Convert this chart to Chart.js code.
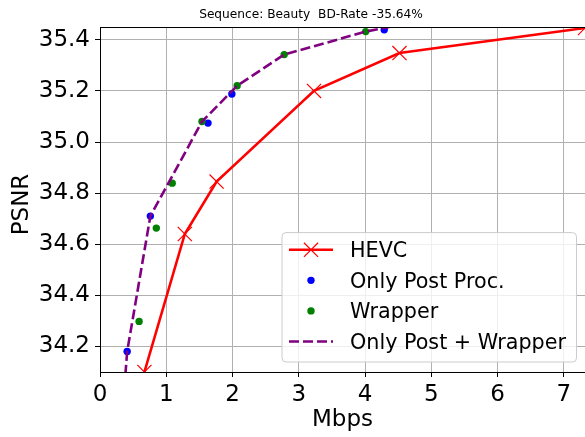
<!DOCTYPE html>
<html><head><meta charset="utf-8">
<script src="https://cdn.jsdelivr.net/npm/chart.js@4"></script>
<style>html,body{margin:0;padding:0;background:#fff;overflow:hidden;}</style>
</head><body>
<canvas id="c" width="585" height="437"></canvas>
<script>
// ---- data ----
const titleText = 'Sequence: Beauty  BD-Rate -35.64%';
const xTitle = 'Mbps';
const yTitle = 'PSNR';
const seriesNames = ['HEVC', 'Only Post Proc.', 'Wrapper', 'Only Post + Wrapper'];
const hevcRate = [0.67, 1.28, 1.76, 3.23, 4.52, 7.32];
const hevcPsnr = [34.10, 34.64, 34.845, 35.20, 35.348, 35.446];
const postRate = [0.41, 0.76, 1.63, 1.99, 4.29];
const postPsnr = [34.18, 34.71, 35.074, 35.188, 35.439];
const wrapRate = [0.59, 0.85, 1.09, 1.54, 2.07, 2.78, 4.01];
const wrapPsnr = [34.298, 34.663, 34.839, 35.08, 35.22, 35.342, 35.432];
const combRate = [0.35, 0.41, 0.76, 1.54, 2.07, 2.78, 4.01, 5.5];
const combPsnr = [33.98, 34.18, 34.71, 35.08, 35.22, 35.342, 35.432, 35.51];
const xTicks = [0, 1, 2, 3, 4, 5, 6, 7];
const yTicks = [34.2, 34.4, 34.6, 34.8, 35.0, 35.2, 35.4];
const xRange = [0, 7.32];
const yRange = [34.1, 35.45];

const FONT = 'DejaVu Sans';
const pts = (xs, ys) => xs.map((x, i) => ({x: x, y: ys[i]}));

const framePlugin = {
  id: 'frame',
  afterDatasetsDraw(chart) {
    const {ctx, chartArea: a} = chart;
    ctx.save();
    ctx.strokeStyle = '#000';
    ctx.lineWidth = 1;
    ctx.beginPath();
    ctx.moveTo(a.left + 0.5, a.bottom + 0.5);
    ctx.lineTo(a.left + 0.5, a.top + 0.5);
    ctx.lineTo(a.right + 1, a.top + 0.5);
    ctx.moveTo(a.left, a.bottom + 0.5);
    ctx.lineTo(a.right + 1, a.bottom + 0.5);
    ctx.stroke();
    ctx.restore();
  },
  afterDraw(chart) {
    const {ctx, chartArea: a} = chart;
    ctx.save();
    // title
    const ts = 12.2;
    ctx.fillStyle = '#000';
    ctx.font = ts + 'px "' + FONT + '"';
    ctx.textAlign = 'center';
    ctx.textBaseline = 'alphabetic';
    ctx.fillText(titleText, a.left + 211, a.top - 13.2 + 0.3645 * ts);
    // y axis title
    ctx.save();
    ctx.font = '23px "' + FONT + '"';
    ctx.translate(a.left - 80, (a.top + a.bottom) / 2 + 5);
    ctx.rotate(-Math.PI / 2);
    ctx.textAlign = 'center';
    ctx.textBaseline = 'alphabetic';
    ctx.fillText(yTitle, 0, 0.3645 * 23);
    ctx.restore();
    // legend
    const right = a.right - 9, bottom = a.bottom - 10.5;
    const w = 294.5, h = 129.4;
    const left = right - w, top = bottom - h;
    ctx.beginPath();
    ctx.roundRect(left + 0.5, top + 0.5, w, h, 4);
    ctx.fillStyle = 'rgba(255,255,255,0.8)';
    ctx.fill();
    ctx.strokeStyle = '#cccccc';
    ctx.lineWidth = 1;
    ctx.stroke();
    const fs = 20.7;
    chart.data.datasets.forEach((ds, i) => {
      const cy = top + 17.7 + i * 30.55;
      const x0 = left + 7.5, x1 = left + 51.5, xm = (x0 + x1) / 2;
      if (ds.showLine) {
        ctx.save();
        ctx.setLineDash(ds.borderDash || []);
        ctx.strokeStyle = ds.borderColor;
        ctx.lineWidth = ds.borderWidth;
        ctx.beginPath();
        ctx.moveTo(x0, cy); ctx.lineTo(x1, cy);
        ctx.stroke();
        ctx.restore();
      }
      if (ds.pointRadius > 0) {
        ctx.save();
        ctx.fillStyle = ds.pointBackgroundColor;
        ctx.strokeStyle = ds.pointBorderColor;
        ctx.lineWidth = ds.pointBorderWidth;
        Chart.helpers.drawPoint(ctx, {pointStyle: ds.pointStyle, radius: ds.pointRadius, borderWidth: ds.pointBorderWidth, rotation: 0}, xm, cy);
        ctx.restore();
      }
      ctx.fillStyle = '#000';
      ctx.font = fs + 'px "' + FONT + '"';
      ctx.textBaseline = 'alphabetic';
      ctx.textAlign = 'left';
      ctx.fillText(ds.label, left + 68.5, cy + 0.3645 * fs);
    });
    ctx.restore();
  }
};

const tickFont = {family: FONT, size: 23};
const gridCfg = {color: '#b0b0b0', lineWidth: 1, tickLength: 5, tickColor: '#000', drawTicks: true};
const noPad = s => { s.paddingLeft = 0; s.paddingRight = 0; s.paddingTop = 0; s.paddingBottom = 0; };

new Chart(document.getElementById('c'), {
  type: 'scatter',
  data: {
    datasets: [
      {label: seriesNames[0], data: pts(hevcRate, hevcPsnr), showLine: true,
       borderColor: '#ff0000', borderWidth: 2.6, pointStyle: 'crossRot', pointRadius: 10,
       pointBorderColor: '#ff0000', pointBackgroundColor: '#ff0000', pointBorderWidth: 1.2,
       clip: 0, order: 4},
      {label: seriesNames[1], data: pts(postRate, postPsnr), showLine: false,
       pointStyle: 'circle', pointRadius: 3.7, pointBackgroundColor: '#0000ff',
       pointBorderColor: '#0000ff', pointBorderWidth: 0, clip: 0, order: 3},
      {label: seriesNames[2], data: pts(wrapRate, wrapPsnr), showLine: false,
       pointStyle: 'circle', pointRadius: 3.7, pointBackgroundColor: '#008000',
       pointBorderColor: '#008000', pointBorderWidth: 0, clip: 0, order: 2},
      {label: seriesNames[3], data: pts(combRate, combPsnr), showLine: true,
       borderColor: '#800080', borderWidth: 2.6, borderDash: [10, 4], pointRadius: 0,
       clip: 0, order: 1}
    ]
  },
  options: {
    responsive: false,
    animation: false,
    devicePixelRatio: 1,
    layout: {padding: {top: 27, left: 0, right: 0, bottom: 0}, autoPadding: false},
    plugins: {
      legend: {display: false},
      tooltip: {enabled: false},
      title: {display: false}
    },
    scales: {
      x: {
        type: 'linear', min: xRange[0], max: xRange[1],
        afterBuildTicks: s => { s.ticks = xTicks.map(v => ({value: v})); },
        afterFit: s => { s.height = 65; noPad(s); },
        ticks: {font: tickFont, color: '#000', padding: 4, maxRotation: 0, autoSkip: false,
                callback: v => String(v)},
        grid: gridCfg,
        border: {display: true, color: '#000', width: 1},
        title: {display: true, text: xTitle, color: '#000',
                font: {family: FONT, size: 23, lineHeight: 1}, padding: {top: 0, bottom: 5}}
      },
      y: {
        type: 'linear', min: yRange[0], max: yRange[1],
        afterBuildTicks: s => { s.ticks = yTicks.map(v => ({value: v})); },
        afterFit: s => { s.width = 100; noPad(s); },
        ticks: {font: tickFont, color: '#000', padding: 5, callback: v => v.toFixed(1)},
        grid: gridCfg,
        border: {display: true, color: '#000', width: 1},
        title: {display: false}
      }
    }
  },
  plugins: [framePlugin]
});
</script>
</body></html>
